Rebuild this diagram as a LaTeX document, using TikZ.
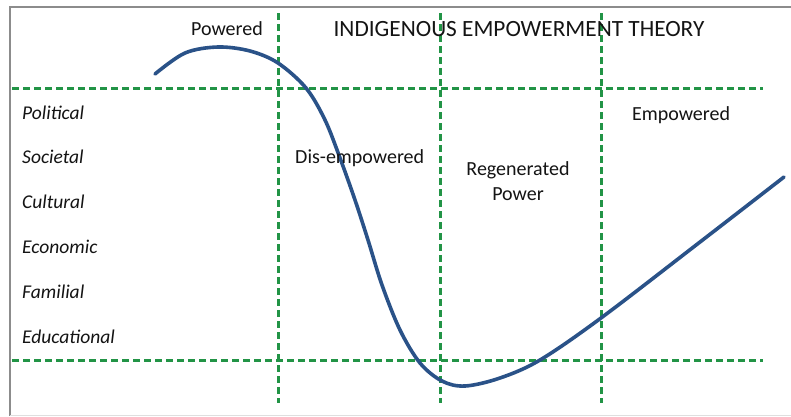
\documentclass[tikz,border=0pt]{standalone}
\usepackage{fontspec}
\setmainfont{Carlito}
\definecolor{gridgreen}{RGB}{34,148,70}
\definecolor{curveblue}{RGB}{42,82,136}
\definecolor{txt}{RGB}{20,20,20}
\definecolor{framegray}{RGB}{140,140,140}
\begin{document}
\begin{tikzpicture}[x=1pt,y=-1pt,
  gridline/.style={draw=gridgreen,line width=3pt,dash pattern=on 7pt off 4pt},
  lbl/.style={anchor=base west,inner sep=0pt,text=txt,font=\fontsize{19.5}{23}\selectfont\itshape},
  zone/.style={anchor=base,inner sep=0pt,text=txt,font=\fontsize{20}{25}\selectfont,align=center},
  curve/.style={draw=curveblue,line width=3.6pt,line cap=round}]
\useasboundingbox (0,0) rectangle (791,416);
\fill[white] (0,0) rectangle (791,416);
% frame
\draw[framegray,line width=1.5pt] (791,7) -- (10,7) -- (10,416);
\draw[gray!25,line width=1pt] (10,415) -- (791,415);
% grid
\coordinate (h1a) at (12,88); \coordinate (h1b) at (763,88);
\coordinate (h2a) at (12,360); \coordinate (h2b) at (763,360);
\coordinate (v1a) at (278,13); \coordinate (v1b) at (278,403);
\coordinate (v2a) at (440,13); \coordinate (v2b) at (440,403);
\coordinate (v3a) at (601,13); \coordinate (v3b) at (601,403);
\draw[gridline] (h1a) -- (h1b);
\draw[gridline] (h2a) -- (h2b);
\draw[gridline] (v1a) -- (v1b);
\draw[gridline] (v2a) -- (v2b);
\draw[gridline] (v3a) -- (v3b);
% curve
\draw[curve] plot[smooth,tension=0.55] coordinates {(155,74) (185,53) (218,47) (250,51) (278,63) (306,88) (325,120) (340,158) (355,200) (368,240) (382,285) (400,330) (420,363) (442,381) (465,386) (500,378) (540,360) (601,318) (700,242) (784,177)};
% texts
\node[zone] (powered) at (227,35) {Powered};
\node[zone,font=\fontsize{23.3}{28}\selectfont] (title) at (519,36) {INDIGENOUS EMPOWERMENT THEORY};
\node[zone] (empowered) at (681,120) {Empowered};
\node[zone,anchor=base west] (dis) at (295,163) {Dis-empowered};
\node[zone] (regen) at (518,175) {Regenerated};
\node[zone] (power) at (518,200) {Power};
\node[lbl] (political) at (22,119) {Political};
\node[lbl] (societal) at (22,163) {Societal};
\node[lbl] (cultural) at (22,208) {Cultural};
\node[lbl] (economic) at (22,253) {Economic};
\node[lbl] (familial) at (22,298) {Familial};
\node[lbl] (educational) at (22,343) {Educational};
\end{tikzpicture}
\end{document}
